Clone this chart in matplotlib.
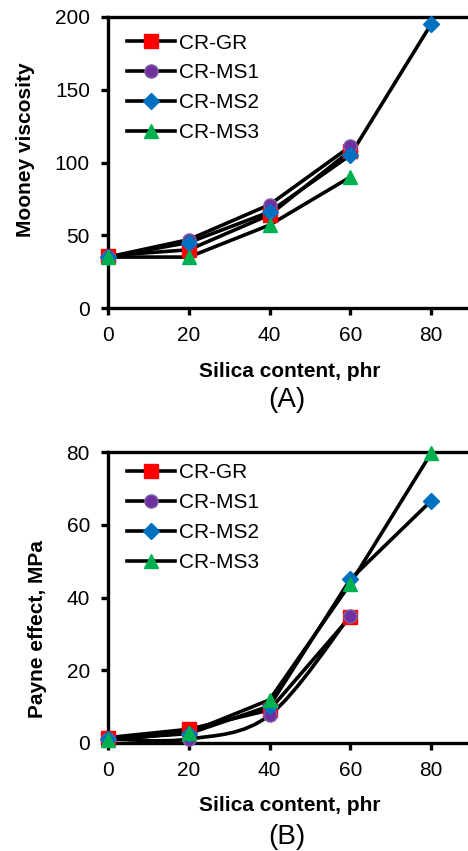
import matplotlib.pyplot as plt
from matplotlib.path import Path
from matplotlib.patches import PathPatch
import numpy as np

plt.rcParams['font.family'] = ['Liberation Sans', 'DejaVu Sans']

silica = [0, 20, 40, 60, 80]
names = ["CR-GR", "CR-MS1", "CR-MS2", "CR-MS3"]
colors = ["#FF0000", "#7030A0", "#0070C0", "#00B050"]
edges = ["#FF0000", "#8064A2", "#0070C0", "#00B050"]
markers = ["s", "o", "D", "^"]
sizes = [9.5, 9.5, 8.5, 10.5]

# Mooney viscosity (A)
mooney_gr = [36, 40, 64, 108]
mooney_ms1 = [35, 47, 71, 111]
mooney_ms2 = [35, 45, 66, 105, 195]
mooney_ms3 = [35, 35, 57, 90]

# Payne effect, MPa (B)
payne_gr = [1.4, 3.7, 9.0, 34.7]
payne_ms1 = [1.0, 1.0, 7.6, 35.0]
payne_ms2 = [1.0, 2.5, 10.1, 45.0, 66.6]
payne_ms3 = [0.7, 2.8, 11.8, 43.8, 79.7]

LW = 2.6


def smooth_path(xs, ys):
    # excel style smoothed line as bezier segments
    pts = np.column_stack([xs, ys]).astype(float)
    n = len(pts)
    verts = [pts[0]]
    codes = [Path.MOVETO]
    for i in range(n - 1):
        p0 = pts[i - 1] if i > 0 else pts[i]
        p1 = pts[i]
        p2 = pts[i + 1]
        p3 = pts[i + 2] if i + 2 < n else pts[i + 1]
        c1 = p1 + (p2 - p0) / 6.0
        c2 = p2 - (p3 - p1) / 6.0
        verts += [c1, c2, p2]
        codes += [Path.CURVE4] * 3
    return Path(verts, codes)


def draw_panel(ax, series, smooth, ymax, yticks, ylabel, label_xy, leg_y):
    for vals, sm, c, ec, m, ms, name in zip(series, smooth, colors, edges,
                                            markers, sizes, names):
        xs = silica[:len(vals)]
        if sm:
            ax.add_patch(PathPatch(smooth_path(xs, vals), fill=False, lw=LW,
                                   edgecolor="black", zorder=2))
        else:
            ax.plot(xs, vals, color="black", lw=LW, zorder=2)
        ax.plot([], [], color="black", lw=LW, marker=m, ms=ms, mfc=c, mec=ec,
                label=name)
    for vals, c, ec, m, ms in zip(series, colors, edges, markers, sizes):
        xs = silica[:len(vals)]
        ax.plot(xs, vals, ls="none", marker=m, ms=ms, mfc=c, mec=ec, mew=1,
                zorder=3, clip_on=False)
    ax.set_xlim(0, 90)
    ax.set_ylim(0, ymax)
    ax.set_xticks(silica)
    ax.set_yticks(yticks)
    for s in ax.spines.values():
        s.set_linewidth(2.4)
    ax.tick_params(direction="out", length=5, width=2.4, labelsize=15, pad=8)
    ax.set_xlabel("Silica content, phr", fontsize=15, fontweight="bold",
                  labelpad=12)
    ax.set_ylabel(ylabel, fontsize=15, fontweight="bold")
    ax.yaxis.set_label_coords(*label_xy)
    ax.legend(loc="upper left", bbox_to_anchor=(0.052, leg_y), frameon=False,
              fontsize=15, handlelength=2.3, handletextpad=0.2,
              labelspacing=0.52, borderaxespad=0, borderpad=0)


fig = plt.figure(figsize=(4.68, 8.51), dpi=100)
W, H = 468.0, 851.0
ax1 = fig.add_axes([108 / W, 1 - 308 / H, 363.4 / W, 291 / H])
ax2 = fig.add_axes([108 / W, 1 - 742.7 / H, 363.4 / W, 290.4 / H])

draw_panel(ax1, [mooney_gr, mooney_ms1, mooney_ms2, mooney_ms3],
           [False, False, False, False], 200, [0, 50, 100, 150, 200],
           "Mooney viscosity", (-0.201, 0.543), 0.943)
draw_panel(ax2, [payne_gr, payne_ms1, payne_ms2, payne_ms3],
           [False, True, False, False], 80, [0, 20, 40, 60, 80],
           "Payne effect, MPa", (-0.168, 0.392), 0.962)

fig.text(287 / W, 1 - 400 / H, "(A)", ha="center", va="center", fontsize=20)
fig.text(287 / W, 1 - 837 / H, "(B)", ha="center", va="center", fontsize=20)

fig.savefig("out.png", dpi=100)
